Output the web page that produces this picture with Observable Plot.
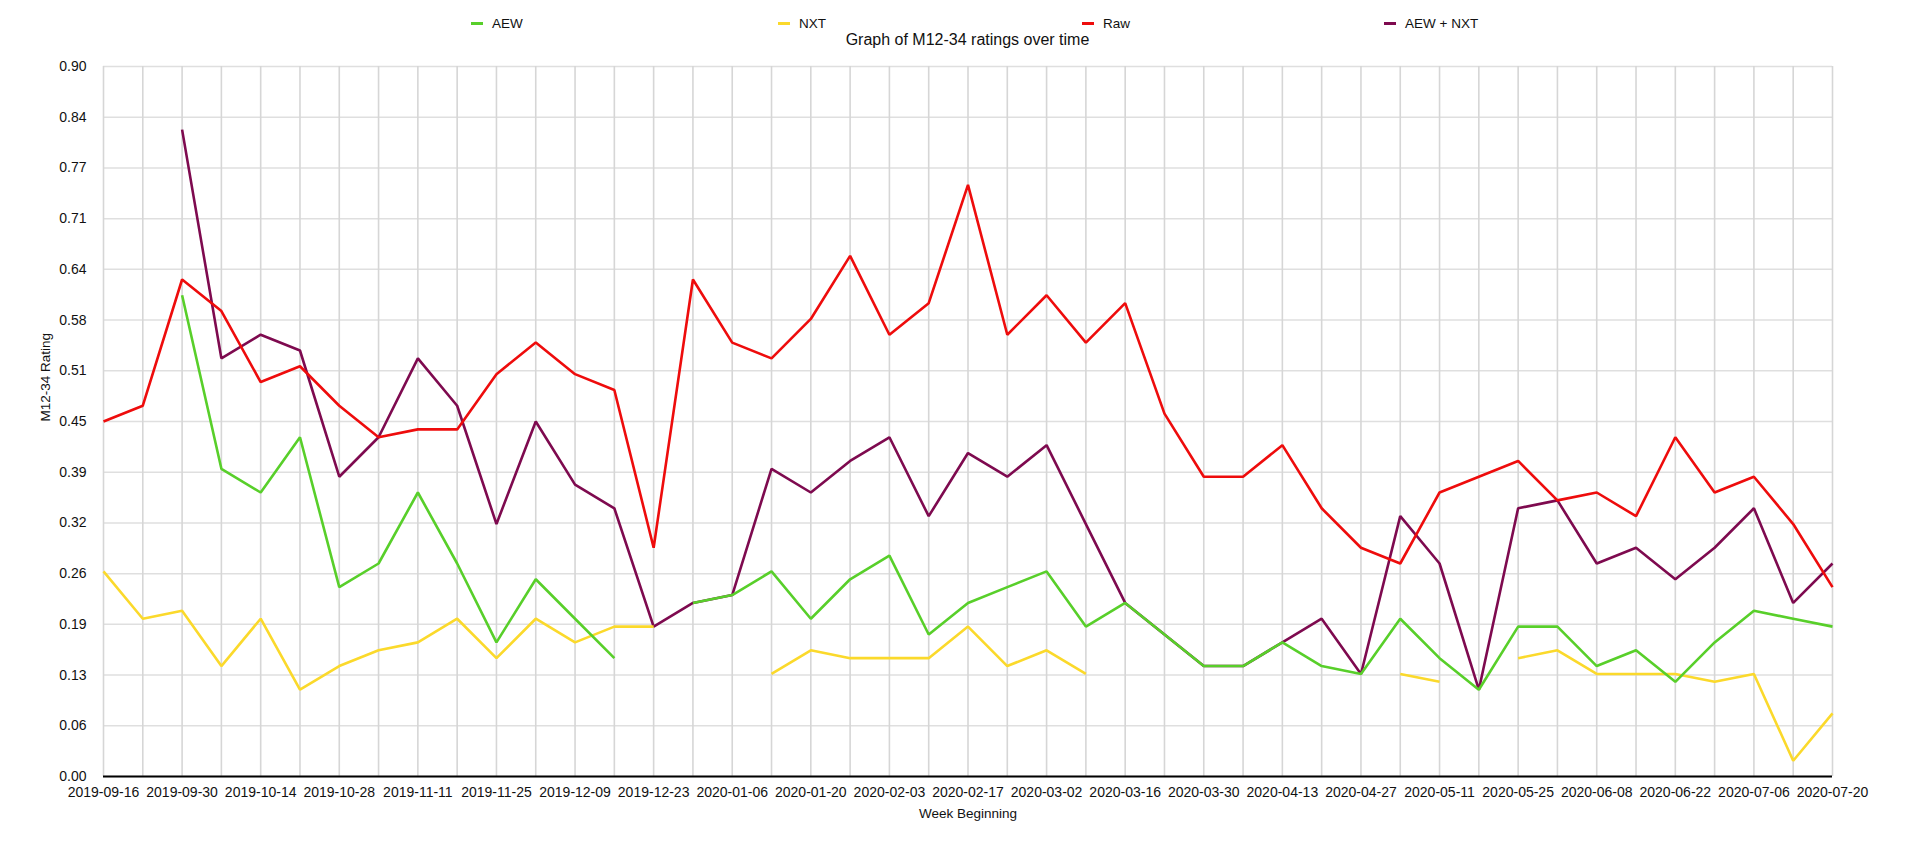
<!DOCTYPE html>
<html>
<head>
<meta charset="utf-8">
<script src="https://cdn.jsdelivr.net/npm/d3@7"></script>
<script src="https://cdn.jsdelivr.net/npm/@observablehq/plot@0.6"></script>
<style>
  html, body { margin: 0; padding: 0; background: #fff; }
  body { width: 1920px; height: 849px; position: relative; overflow: hidden; font-family: "Liberation Sans", Arial, Helvetica, sans-serif; }
  #chart { position: absolute; left: 0; top: 0; }
  .legend-item { position: absolute; top: 14px; font-size: 13.5px; color: #111; display: flex; align-items: center; white-space: nowrap; height: 18px; }
  .legend-item .sw { width: 12px; height: 3px; margin-right: 9px; display: inline-block; }
  #title { position: absolute; top: 31px; left: 0; width: 1935px; text-align: center; font-size: 16px; color: #111; }
</style>
</head>
<body>
<div id="chart"></div>
<div id="title">Graph of M12-34 ratings over time</div>
<script>
// ---- data ----
const weeks = [
  "2019-09-16","2019-09-23","2019-09-30","2019-10-07","2019-10-14","2019-10-21","2019-10-28","2019-11-04",
  "2019-11-11","2019-11-18","2019-11-25","2019-12-02","2019-12-09","2019-12-16","2019-12-23","2019-12-30",
  "2020-01-06","2020-01-13","2020-01-20","2020-01-27","2020-02-03","2020-02-10","2020-02-17","2020-02-24",
  "2020-03-02","2020-03-09","2020-03-16","2020-03-23","2020-03-30","2020-04-06","2020-04-13","2020-04-20",
  "2020-04-27","2020-05-04","2020-05-11","2020-05-18","2020-05-25","2020-06-01","2020-06-08","2020-06-15",
  "2020-06-22","2020-06-29","2020-07-06","2020-07-13","2020-07-20"
];
const xTickLabels = [
  "2019-09-16","2019-09-30","2019-10-14","2019-10-28","2019-11-11","2019-11-25","2019-12-09","2019-12-23",
  "2020-01-06","2020-01-20","2020-02-03","2020-02-17","2020-03-02","2020-03-16","2020-03-30","2020-04-13",
  "2020-04-27","2020-05-11","2020-05-25","2020-06-08","2020-06-22","2020-07-06","2020-07-20"
];
const yTicks = [0, 0.0643, 0.1286, 0.1929, 0.2571, 0.3214, 0.3857, 0.45, 0.5143, 0.5786, 0.6429, 0.7071, 0.7714, 0.8357, 0.9];

const aew = [null, null, 0.61, 0.39, 0.36, 0.43, 0.24, 0.27, 0.36, 0.27, 0.17, 0.25, 0.20, 0.15, null, 0.22,
  0.23, 0.26, 0.20, 0.25, 0.28, 0.18, 0.22, 0.24, 0.26, 0.19, 0.22, 0.18, 0.14, 0.14, 0.17, 0.14,
  0.13, 0.20, 0.15, 0.11, 0.19, 0.19, 0.14, 0.16, 0.12, 0.17, 0.21, 0.20, 0.19];
const nxt = [0.26, 0.20, 0.21, 0.14, 0.20, 0.11, 0.14, 0.16, 0.17, 0.20, 0.15, 0.20, 0.17, 0.19, 0.19, null,
  null, 0.13, 0.16, 0.15, 0.15, 0.15, 0.19, 0.14, 0.16, 0.13, null, null, null, null, null, null,
  null, 0.13, 0.12, null, 0.15, 0.16, 0.13, 0.13, 0.13, 0.12, 0.13, 0.02, 0.08];
const raw = [0.45, 0.47, 0.63, 0.59, 0.50, 0.52, 0.47, 0.43, 0.44, 0.44, 0.51, 0.55, 0.51, 0.49, 0.29, 0.63,
  0.55, 0.53, 0.58, 0.66, 0.56, 0.60, 0.75, 0.56, 0.61, 0.55, 0.60, 0.46, 0.38, 0.38, 0.42, 0.34,
  0.29, 0.27, 0.36, 0.38, 0.40, 0.35, 0.36, 0.33, 0.43, 0.36, 0.38, 0.32, 0.24];
const aewNxt = [null, null, 0.82, 0.53, 0.56, 0.54, 0.38, 0.43, 0.53, 0.47, 0.32, 0.45, 0.37, 0.34, 0.19, 0.22,
  0.23, 0.39, 0.36, 0.40, 0.43, 0.33, 0.41, 0.38, 0.42, 0.32, 0.22, 0.18, 0.14, 0.14, 0.17, 0.20,
  0.13, 0.33, 0.27, 0.11, 0.34, 0.35, 0.27, 0.29, 0.25, 0.29, 0.34, 0.22, 0.27];

const seriesNames = ["AEW", "NXT", "Raw", "AEW + NXT"];
const seriesColors = ["#58cf2a", "#fbd92b", "#ee0c0c", "#7e0a4f"];
const seriesValues = [aew, nxt, raw, aewNxt];

// ---- build ----
const rows = s => weeks.map((w, i) => ({week: w, v: seriesValues[s][i]}));
const drawOrder = [3, 2, 1, 0];

const chart = Plot.plot({
  width: 1920,
  height: 849,
  marginTop: 66,
  marginBottom: 73,
  marginLeft: 103,
  marginRight: 88,
  style: {fontFamily: "'Liberation Sans', Arial, Helvetica, sans-serif", fontSize: "14px", color: "#111", background: "#fff"},
  x: {type: "point", domain: weeks, padding: 0, round: false},
  y: {domain: [0, 0.9]},
  marks: [
    Plot.ruleY(yTicks, {stroke: "#dfdfdf", strokeWidth: 1.6}),
    Plot.ruleX(weeks, {stroke: "#d6d6d6", strokeWidth: 1.6}),
    ...drawOrder.map(s => Plot.line(rows(s), {
      x: "week", y: "v", stroke: seriesColors[s], strokeWidth: 2.6,
      strokeLinejoin: "miter", strokeLinecap: "butt", curve: "linear"
    })),
    Plot.ruleY([0], {stroke: "#000", strokeWidth: 2}),
    Plot.axisX({ticks: xTickLabels, tickSize: 0, tickPadding: 11, fontSize: 14, label: null}),
    Plot.axisY({ticks: yTicks, tickFormat: d3.format(".2f"), tickSize: 0, tickPadding: 17, fontSize: 14, label: null}),
    Plot.text(["Week Beginning"], {frameAnchor: "bottom", dy: 41, fontSize: 13.5, fill: "#111"}),
    Plot.text(["M12-34 Rating"], {frameAnchor: "left", dx: -58, rotate: -90, fontSize: 13.5, fill: "#111"})
  ]
});
document.getElementById("chart").appendChild(chart);

// ---- legend ----
const legendX = [471, 778, 1082, 1384];
seriesNames.forEach((name, i) => {
  const item = document.createElement("div");
  item.className = "legend-item";
  item.style.left = legendX[i] + "px";
  const sw = document.createElement("span");
  sw.className = "sw";
  sw.style.background = seriesColors[i];
  const label = document.createElement("span");
  label.textContent = name;
  item.appendChild(sw);
  item.appendChild(label);
  document.body.appendChild(item);
});
</script>
</body>
</html>
